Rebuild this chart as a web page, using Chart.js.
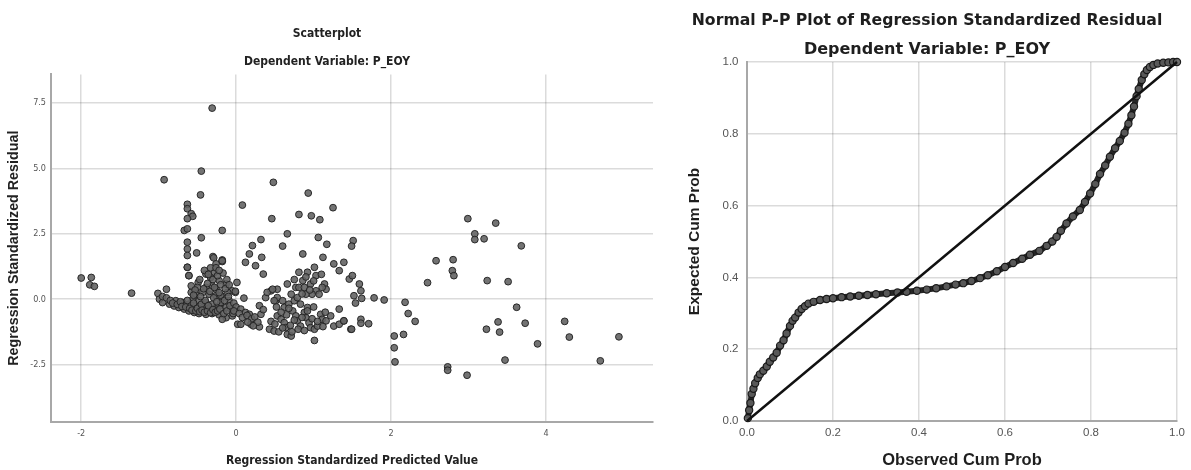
<!DOCTYPE html>
<html>
<head>
<meta charset="utf-8">
<script src="https://cdn.jsdelivr.net/npm/chart.js@4.4.1/dist/chart.umd.min.js"></script>
<style>
  html, body { margin: 0; padding: 0; background: #fff; }
  #wrap { position: relative; width: 1191px; height: 470px; overflow: hidden; }
  canvas { position: absolute; top: 0; }
  #left { left: 0; }
  #right { left: 680px; }
</style>
</head>
<body>
<div id="wrap">
  <canvas id="left" width="658" height="470"></canvas>
  <canvas id="right" width="511" height="470"></canvas>
</div>
<script>
// ---------- Data: Scatterplot (Regression Standardized Predicted Value vs Residual) ----------
const predicted = [
  -2.00,-1.87,-1.89,-1.83,-1.35,-1.01,-0.90,
  -0.31,-0.45,-0.93,-0.46,-0.63,-0.63,-0.58,-0.56,-0.63,-0.67,-0.63,-0.18,-0.45,-0.63,-0.63,-0.63,-0.51,-0.30,-0.18,-0.63,-0.61,-0.29,-0.18,
  -0.99,-0.95,-0.86,-0.80,-0.74,-0.67,-0.61,-0.54,-0.48,-0.39,-0.31,-0.22,-0.13,-0.05,-0.18,
  -0.78,-0.69,-0.61,-0.52,-0.43,-0.35,-0.26,-0.56,-0.48,-0.39,-0.31,-0.22,-0.13,-0.07,
  -0.58,-0.52,-0.43,-0.35,-0.26,-0.18,-0.09,-0.58,-0.49,-0.39,-0.33,-0.28,-0.26,-0.18,-0.22,-0.13,-0.05,-0.31,-0.39,-0.26,-0.63,-0.61,-0.01,0.02,-0.20,-0.11,
  -0.95,-0.90,-0.85,-0.82,-0.76,-0.72,-0.70,-0.65,-0.63,-0.60,-0.57,-0.55,-0.52,-0.50,-0.47,-0.45,-0.44,-0.41,-0.40,-0.37,-0.36,-0.33,-0.30,-0.29,-0.27,-0.25,-0.24,-0.21,-0.20,-0.16,-0.15,-0.12,-0.10,-0.08,-0.04,-0.03,0.00,
  -0.46,-0.42,-0.37,-0.34,-0.30,-0.28,-0.24,-0.22,-0.20,-0.17,-0.14,-0.12,-0.09,-0.50,-0.53,-0.55,-0.47,-0.41,-0.36,-0.33,-0.26,-0.22,
  0.08,0.48,0.93,1.25,0.46,0.81,0.97,1.08,0.66,1.06,1.17,0.60,0.32,0.21,0.86,1.12,1.51,1.49,0.17,0.33,0.12,0.25,0.35,0.01,-0.01,0.10,
  -0.03,0.06,0.12,0.17,0.32,0.06,0.19,0.30,0.38,0.45,0.53,0.51,0.66,0.40,0.47,0.53,0.60,0.49,
  0.43,0.49,0.53,0.58,0.62,0.64,0.66,0.71,0.73,0.77,0.79,0.83,0.88,0.90,0.94,0.96,1.01,1.05,1.09,1.11,1.16,1.22,1.26,1.33,1.33,1.39,1.48,1.01,
  0.62,0.68,0.75,0.83,0.92,0.79,0.71,0.77,0.81,0.88,0.96,0.86,0.81,0.92,1.03,1.01,1.14,1.16,1.11,1.03,1.07,0.98,0.90,
  0.45,0.50,0.55,0.60,0.65,0.70,0.72,0.75,0.80,0.85,0.88,0.92,0.98,1.00,1.05,1.12,1.15,0.68,0.58,0.52,0.85,0.95,1.00,1.10,0.75,0.90,
  0.04,0.08,0.14,0.20,0.24,0.28,0.22,0.15,0.30,0.35,
  1.26,1.39,1.33,1.46,1.50,1.59,1.61,1.52,1.54,1.62,1.78,1.91,1.39,1.49,1.61,1.61,1.71,
  2.18,2.22,2.31,2.04,2.16,2.04,2.05,
  2.99,3.35,3.08,3.08,3.20,3.68,2.58,2.80,2.79,2.81,2.47,3.24,3.51,3.62,3.38,3.73,3.23,3.40,3.89,4.24,4.30,4.94,3.47,4.70,2.73,2.73,2.98
];
const residual = [
  0.81,0.83,0.55,0.49,0.23,0.22,0.38,
  7.31,4.90,4.57,3.99,3.63,3.46,3.27,3.17,3.08,2.63,2.69,2.63,2.35,2.18,1.92,1.67,1.77,1.63,1.50,1.22,0.90,1.58,1.44,
  0.00,-0.13,-0.19,-0.26,-0.32,-0.38,-0.45,-0.51,-0.55,-0.58,-0.55,-0.60,-0.71,-0.64,-0.77,
  -0.06,-0.13,-0.19,-0.26,-0.32,-0.38,-0.32,0.00,-0.06,-0.13,-0.19,-0.26,-0.32,-0.38,
  0.26,0.19,0.26,0.19,0.13,0.06,-0.06,0.51,0.64,0.96,0.83,1.03,1.35,1.47,0.71,0.58,0.32,0.51,0.45,0.38,1.22,0.90,0.26,-0.96,-0.13,0.26,
  0.10,0.05,-0.05,-0.15,-0.20,-0.10,-0.28,-0.30,-0.05,-0.35,-0.42,-0.15,-0.45,-0.35,-0.48,-0.20,-0.42,-0.50,-0.05,-0.45,-0.25,-0.52,-0.40,0.05,-0.50,-0.10,-0.45,-0.38,0.15,-0.55,-0.05,-0.45,0.10,-0.25,-0.55,-0.15,-0.30,
  0.10,0.40,0.60,0.30,0.75,0.45,0.90,0.25,0.55,1.00,0.40,0.75,0.55,0.45,0.35,0.15,0.75,1.10,0.95,1.20,1.20,1.10,
  3.60,4.47,4.06,3.50,3.08,3.24,3.19,3.04,2.50,2.36,2.10,2.03,2.28,2.05,1.73,1.60,2.24,2.03,1.73,1.60,1.41,1.28,0.96,0.64,0.30,0.04,
  -0.45,-0.38,-0.51,-0.58,-0.58,-0.96,-0.96,-1.06,0.06,0.32,0.38,-0.06,0.58,0.26,0.38,0.06,-0.06,-0.06,
  -1.15,-1.22,-0.64,-0.77,-0.90,-1.09,-1.35,-1.41,-0.45,-0.64,-0.83,-1.03,-0.51,-0.71,-0.90,-1.09,-1.15,-1.03,-0.58,-0.77,-0.83,-0.64,-1.03,-0.96,-0.38,-0.83,-1.15,-1.58,
  -0.32,-0.19,-0.06,-0.19,-0.32,0.06,0.19,0.45,0.45,0.45,0.58,0.71,1.03,1.03,0.90,1.22,0.58,0.38,0.45,0.32,0.19,0.19,0.19,
  -0.85,-0.95,-1.25,-1.10,-0.60,-1.00,-1.25,-0.80,-1.15,-0.70,-1.20,-0.45,-0.75,-0.30,-0.85,-1.05,-0.50,-0.35,-0.50,-0.30,0.20,0.35,0.70,0.95,0.75,0.85,
  -0.55,-0.70,-0.62,-0.75,-0.68,-0.88,-1.02,-0.88,-0.25,-0.40,
  1.35,1.41,1.09,0.77,0.90,0.58,0.32,0.13,-0.15,0.03,0.05,-0.03,-0.83,-1.15,-0.77,-0.92,-0.94,
  -0.12,-0.55,-0.85,-1.41,-1.35,-1.86,-2.40,
  3.08,2.91,2.50,2.28,2.31,2.04,1.47,1.51,1.09,0.90,0.63,0.71,0.67,-0.31,-0.87,-0.92,-1.15,-1.26,-1.71,-0.85,-1.45,-1.44,-2.33,-2.36,-2.59,-2.72,-2.91
];
const scatterXTicks = [-2, 0, 2, 4];
const scatterYTicks = [-2.5, 0, 2.5, 5, 7.5];

// ---------- Data: Normal P-P plot ----------
const ppObserved = [
  0.002,0.005,0.008,0.011,0.015,0.019,0.025,0.030,0.038,0.046,0.053,0.061,0.069,0.077,0.085,0.092,0.100,0.106,0.112,0.120,
  0.127,0.135,0.143,0.155,0.170,0.185,0.200,0.220,0.240,0.260,0.280,0.300,0.325,0.350,0.371,0.395,0.418,0.440,0.464,0.485,
  0.503,0.522,0.542,0.560,0.581,0.600,0.619,0.640,0.658,0.680,0.697,0.710,0.720,0.730,0.743,0.758,0.774,0.786,0.798,0.810,
  0.821,0.833,0.844,0.856,0.867,0.878,0.887,0.894,0.900,0.906,0.911,0.918,0.924,0.930,0.937,0.945,0.955,0.968,0.980,0.991,1.000
];
const ppExpected = [
  0.008,0.030,0.050,0.075,0.090,0.105,0.120,0.130,0.140,0.152,0.165,0.177,0.190,0.210,0.225,0.244,0.265,0.279,0.288,0.302,
  0.312,0.320,0.327,0.332,0.337,0.340,0.342,0.345,0.347,0.349,0.351,0.353,0.356,0.358,0.360,0.363,0.366,0.370,0.375,0.380,
  0.384,0.390,0.398,0.406,0.417,0.429,0.440,0.452,0.463,0.474,0.488,0.500,0.513,0.530,0.550,0.570,0.588,0.610,0.634,0.660,
  0.688,0.712,0.736,0.760,0.780,0.803,0.828,0.852,0.876,0.905,0.925,0.950,0.966,0.978,0.986,0.992,0.996,0.998,0.999,1.000,1.000
];
const refLineX = [0, 1];
const refLineY = [0, 1];
const ppTicks = [0, 0.2, 0.4, 0.6, 0.8, 1.0];

// ---------- Rendering ----------
const NARROW = '"Liberation Sans Narrow", "Arial Narrow", "DejaVu Sans Condensed", "Roboto Condensed", sans-serif';
const ARIAL = '"Liberation Sans", Arial, sans-serif';
const WIDE = '"DejaVu Sans", Verdana, sans-serif';
const GRID = 'rgba(0,0,0,0.14)';
const AXIS = '#a8a8a8';

const pts = (xs, ys) => xs.map((x, i) => ({ x, y: ys[i] }));
const fixTicks = arr => s => { s.ticks = arr.map(v => ({ value: v })); };

new Chart(document.getElementById('left'), {
  type: 'scatter',
  data: {
    datasets: [{
      data: pts(predicted, residual),
      pointRadius: 3.4,
      pointBackgroundColor: 'rgba(100,100,100,0.9)',
      pointBorderColor: 'rgba(35,35,35,0.95)',
      pointBorderWidth: 1,
      clip: false
    }]
  },
  options: {
    responsive: false, animation: false, devicePixelRatio: 1,
    layout: { padding: { left: 0, right: 4, top: 0, bottom: 0 } },
    plugins: {
      legend: { display: false }, tooltip: { enabled: false },
      title: { display: true, text: 'Scatterplot', color: '#222',
        font: { family: NARROW, size: 12, weight: 'bold', lineHeight: 1.2 },
        padding: { top: 27.1, bottom: 13.2 } },
      subtitle: { display: true, text: 'Dependent Variable: P_EOY', color: '#222',
        font: { family: NARROW, size: 12, weight: 'bold', lineHeight: 1.2 },
        padding: { top: 0, bottom: 5.3 } }
    },
    scales: {
      x: {
        type: 'linear', position: 'bottom', min: -2.39, max: 5.38,
        afterBuildTicks: fixTicks(scatterXTicks),
        afterFit: s => { s.height = 48; s.paddingLeft = 0; s.paddingRight = 0; },
        ticks: { font: { family: NARROW, size: 9 }, color: '#555', padding: 6, callback: v => String(v) },
        grid: { color: GRID, lineWidth: 1.5, drawTicks: false },
        border: { display: true, color: AXIS, width: 2 },
        title: { display: true, text: 'Regression Standardized Predicted Value', color: '#222',
          font: { family: NARROW, size: 12, weight: 'bold', lineHeight: 1.2 }, padding: { top: 0, bottom: 2.3 } }
      },
      y: {
        type: 'linear', min: -4.7, max: 8.6,
        afterBuildTicks: fixTicks(scatterYTicks),
        afterFit: s => { s.width = 51; s.paddingTop = 0; s.paddingBottom = 0; },
        ticks: { font: { family: NARROW, size: 9 }, color: '#555', padding: 5, callback: v => v.toFixed(1) },
        grid: { color: GRID, lineWidth: 1.5, drawTicks: false },
        border: { display: true, color: AXIS, width: 2 },
        title: { display: true, text: 'Regression Standardized Residual', color: '#222',
          font: { family: ARIAL, size: 14.3, weight: 'bold', lineHeight: 1.2 }, padding: { top: 5.6, bottom: 0 } }
      }
    }
  }
});

new Chart(document.getElementById('right'), {
  type: 'scatter',
  data: {
    datasets: [
      {
        data: pts(refLineX, refLineY),
        showLine: true, borderColor: '#111', borderWidth: 2.5, pointRadius: 0, clip: false
      },
      {
        data: pts(ppObserved, ppExpected),
        showLine: true, borderColor: 'rgba(30,30,30,0.97)', borderWidth: 6,
        pointRadius: 3.6, pointBackgroundColor: 'rgba(95,95,95,0.9)',
        pointBorderColor: 'rgba(20,20,20,0.95)', pointBorderWidth: 1.2, clip: false
      }
    ]
  },
  options: {
    responsive: false, animation: false, devicePixelRatio: 1,
    layout: { padding: { left: -3, right: 14, top: 0, bottom: 0 } },
    plugins: {
      legend: { display: false }, tooltip: { enabled: false },
      title: { display: true, text: 'Normal P-P Plot of Regression Standardized Residual', color: '#1e1e1e',
        font: { family: WIDE, size: 15.7, weight: 'bold', lineHeight: 1.2 },
        padding: { top: 11.3, bottom: 10.3 } },
      subtitle: { display: true, text: 'Dependent Variable: P_EOY', color: '#1e1e1e',
        font: { family: WIDE, size: 16, weight: 'bold', lineHeight: 1.2 },
        padding: { top: 0, bottom: 2.4 } }
    },
    scales: {
      x: {
        type: 'linear', position: 'bottom', min: 0, max: 1,
        afterBuildTicks: fixTicks(ppTicks),
        afterFit: s => { s.height = 49; s.paddingLeft = 0; s.paddingRight = 0; },
        ticks: { font: { family: ARIAL, size: 11.5 }, color: '#555', padding: 5, callback: v => v.toFixed(1) },
        grid: { color: GRID, lineWidth: 1.5, drawTicks: false },
        border: { display: true, color: AXIS, width: 2 },
        title: { display: true, text: 'Observed Cum Prob', color: '#1e1e1e',
          font: { family: ARIAL, size: 16.5, weight: 'bold', lineHeight: 1.2 }, padding: { top: 0, bottom: 0.1 } }
      },
      y: {
        type: 'linear', min: 0, max: 1,
        afterBuildTicks: fixTicks(ppTicks),
        afterFit: s => { s.width = 70; s.paddingTop = 0; s.paddingBottom = 0; },
        ticks: { font: { family: ARIAL, size: 11.5 }, color: '#555', padding: 8.5, callback: v => v.toFixed(1) },
        grid: { color: GRID, lineWidth: 1.5, drawTicks: false },
        border: { display: true, color: AXIS, width: 2 },
        title: { display: true, text: 'Expected Cum Prob', color: '#1e1e1e',
          font: { family: ARIAL, size: 15.5, weight: 'bold', lineHeight: 1.2 }, padding: { top: 8.7, bottom: 0 } }
      }
    }
  }
});
</script>
</body>
</html>
